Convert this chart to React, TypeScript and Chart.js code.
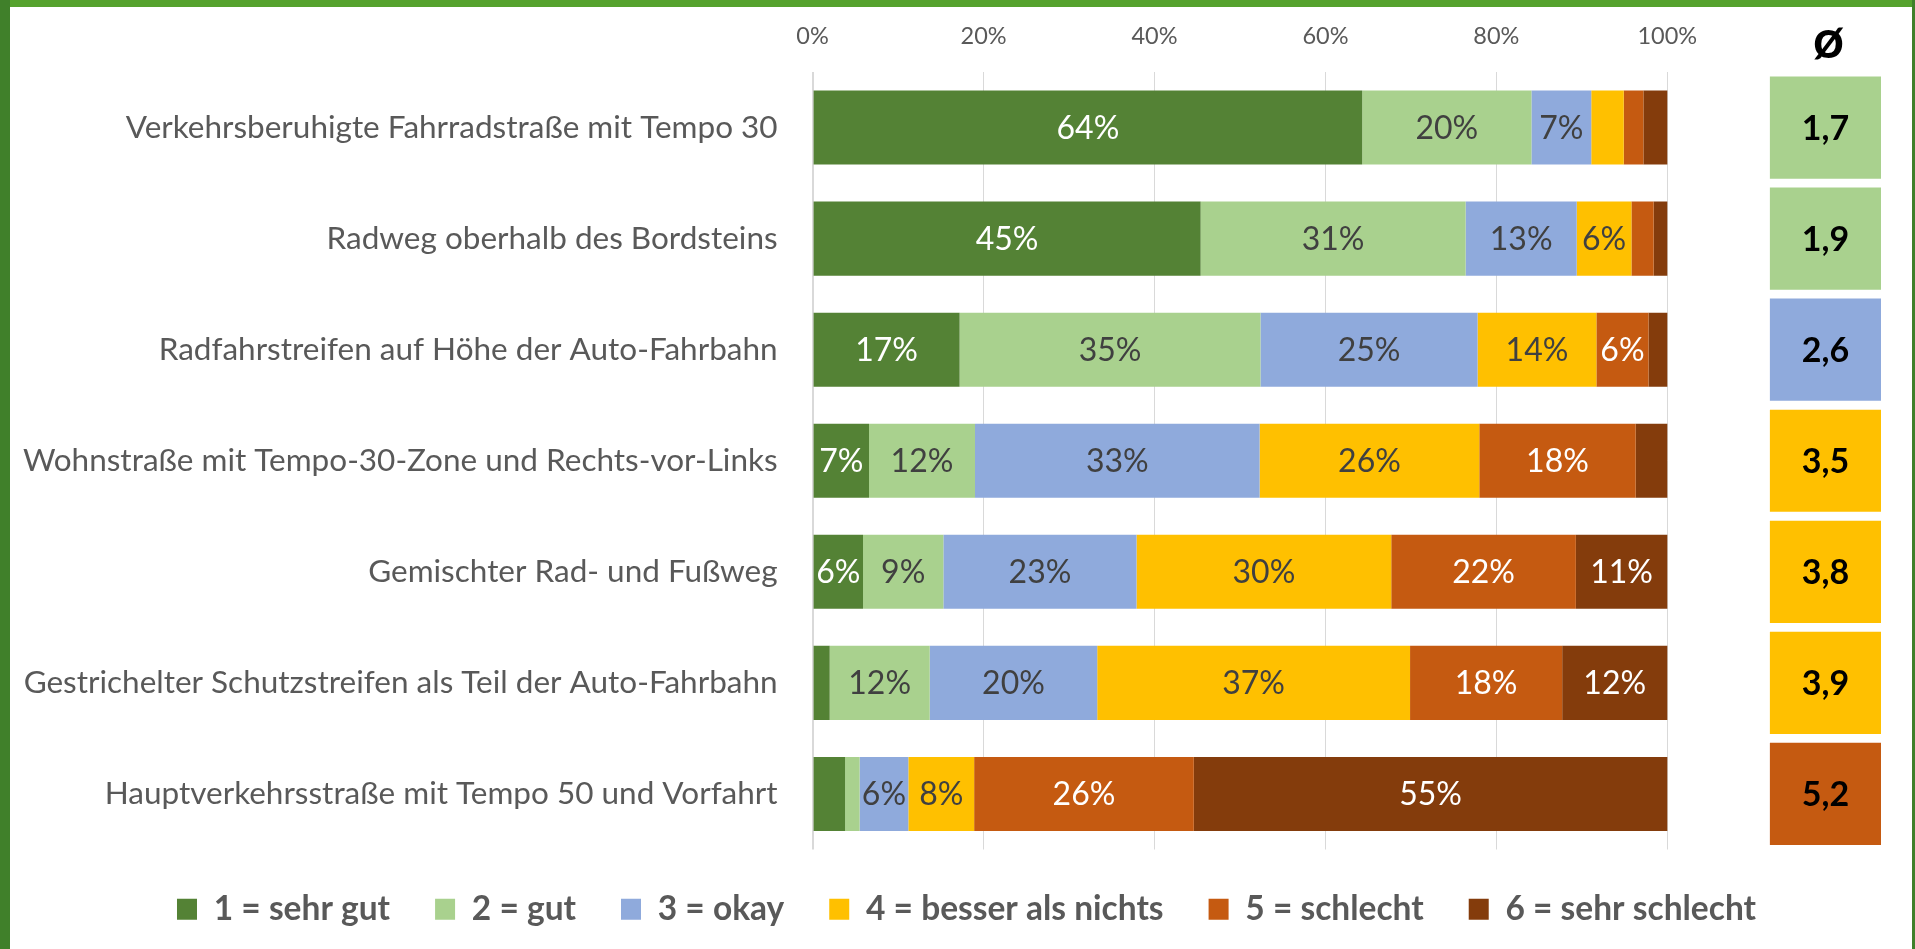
import React, { useEffect, useRef } from 'react';
import { Chart, registerables } from 'chart.js';

Chart.register(...registerables);

// ---------- data ----------
const categories = [
  'Verkehrsberuhigte Fahrradstraße mit Tempo 30',
  'Radweg oberhalb des Bordsteins',
  'Radfahrstreifen auf Höhe der Auto-Fahrbahn',
  'Wohnstraße mit Tempo-30-Zone und Rechts-vor-Links',
  'Gemischter Rad- und Fußweg',
  'Gestrichelter Schutzstreifen als Teil der Auto-Fahrbahn',
  'Hauptverkehrsstraße mit Tempo 50 und Vorfahrt',
];
const seriesNames = [
  '1 = sehr gut',
  '2 = gut',
  '3 = okay',
  '4 = besser als nichts',
  '5 = schlecht',
  '6 = sehr schlecht',
];
const sehrGut = [64.3, 45.4, 17.2, 6.6, 5.9, 2.0, 3.8];
const gut = [19.8, 31.0, 35.2, 12.4, 9.4, 11.7, 1.7];
const okay = [7.0, 13.0, 25.4, 33.3, 22.6, 19.6, 5.7];
const besserAlsNichts = [3.8, 6.4, 13.9, 25.7, 29.8, 36.6, 7.7];
const schlecht = [2.3, 2.6, 6.1, 18.3, 21.6, 17.8, 25.7];
const sehrSchlecht = [2.8, 1.6, 2.2, 3.7, 10.7, 12.3, 55.4];
const averages = [1.7, 1.9, 2.6, 3.5, 3.8, 3.9, 5.2];
const xTickValues = [0, 20, 40, 60, 80, 100];
const averageHeader = 'ø';

// ---------- styles ----------
const FONT = 'Lato';
const palette = ['#548235', '#A9D18E', '#8FAADC', '#FFC000', '#C55A11', '#843C0C'];
const valueTextColors = ['#FFFFFF', '#404040', '#404040', '#404040', '#FFFFFF', '#FFFFFF'];
const AXIS_TEXT = '#595959';
const GRID = '#D9D9D9';
const AVG_COLUMN: [number, number] = [112, 125]; // value-axis span of the average column
const X_MAX = 125;
const MIN_LABEL_VALUE = 5;
const LEGEND_NUDGE_X = 26;
const LEGEND_NUDGE_Y = -2;

const W = 1915;
const H = 949;
const PLOT_LEFT = 812.6;
const TOP_AXIS_HEIGHT = 72;

const valueLabelsPlugin = {
  id: 'valueLabels',
  afterDatasetsDraw(chart: any) {
    const ctx = chart.ctx;
    ctx.save();
    ctx.textAlign = 'center';
    ctx.textBaseline = 'middle';
    chart.data.datasets.forEach((ds: any, di: number) => {
      const meta = chart.getDatasetMeta(di);
      if (ds.stack === 'main') {
        ctx.font = `400 32px ${FONT}`;
        ctx.fillStyle = valueTextColors[di];
        meta.data.forEach((el: any, i: number) => {
          const v = ds.data[i];
          if (v < MIN_LABEL_VALUE) return;
          const p = el.getCenterPoint();
          ctx.fillText(`${Math.round(v)}%`, p.x, p.y + 1);
        });
      } else {
        ctx.font = `700 34px ${FONT}`;
        ctx.fillStyle = '#000000';
        meta.data.forEach((el: any, i: number) => {
          const p = el.getCenterPoint();
          ctx.fillText(averages[i].toFixed(1).replace('.', ','), p.x, p.y + 1);
        });
        const first = meta.data[0];
        if (first) {
          ctx.font = `700 54px ${FONT}`;
          ctx.textBaseline = 'alphabetic';
          ctx.fillText(averageHeader, first.getCenterPoint().x + 3, chart.chartArea.top - 14);
          ctx.textBaseline = 'middle';
        }
      }
    });
    ctx.restore();
  },
};

const legendNudgePlugin = {
  id: 'legendNudge',
  afterLayout(chart: any) {
    const l = chart.legend;
    if (l) {
      l.left += LEGEND_NUDGE_X;
      l.right += LEGEND_NUDGE_X;
      l.top += LEGEND_NUDGE_Y;
      l.bottom += LEGEND_NUDGE_Y;
    }
  },
};

export default function App() {
  const canvasRef = useRef<HTMLCanvasElement | null>(null);

  useEffect(() => {
    const canvas = canvasRef.current;
    if (!canvas) return;
    const series = [sehrGut, gut, okay, besserAlsNichts, schlecht, sehrSchlecht];
    const datasets: any[] = series.map((data, i) => ({
      label: seriesNames[i],
      data,
      backgroundColor: palette[i],
      borderWidth: 0,
      stack: 'main',
      grouped: false,
      categoryPercentage: 1,
      barPercentage: 0.667,
    }));
    datasets.push({
      label: averageHeader,
      data: averages.map(() => AVG_COLUMN),
      backgroundColor: averages.map((a) => palette[Math.round(a) - 1]),
      borderWidth: 0,
      stack: 'avg',
      grouped: false,
      categoryPercentage: 1,
      barPercentage: 0.92,
    });

    const chart = new Chart(canvas, {
      type: 'bar',
      data: { labels: categories, datasets },
      options: {
        indexAxis: 'y',
        responsive: false,
        animation: false,
        events: [],
        layout: { padding: { left: 0, right: 34, top: 0, bottom: 11 } },
        scales: {
          x: {
            position: 'top',
            stacked: true,
            min: 0,
            max: X_MAX,
            afterBuildTicks: (scale: any) => {
              scale.ticks = xTickValues.map((v) => ({ value: v }));
            },
            afterFit: (scale: any) => {
              scale.height = TOP_AXIS_HEIGHT;
            },
            ticks: {
              color: AXIS_TEXT,
              font: { family: FONT, size: 23.5 },
              padding: 21,
              callback: (v: any) => `${v}%`,
              maxRotation: 0,
            },
            grid: {
              color: GRID,
              lineWidth: (c: any) => (c.tick && c.tick.value === 0 ? 2 : 1),
              drawTicks: false,
            },
            border: { display: false },
          },
          y: {
            stacked: true,
            afterFit: (scale: any) => {
              scale.width = PLOT_LEFT;
            },
            ticks: {
              color: AXIS_TEXT,
              font: { family: FONT, size: 31.5 },
              padding: 27,
              autoSkip: false,
            },
            grid: { display: false },
            border: { display: false },
          },
        },
        plugins: {
          tooltip: { enabled: false },
          legend: {
            position: 'bottom',
            labels: {
              filter: (item: any) => item.datasetIndex < seriesNames.length,
              boxWidth: 20,
              boxHeight: 21,
              padding: 45,
              color: AXIS_TEXT,
              font: { family: FONT, size: 33.5, weight: 'bold' },
            },
          },
        },
      } as any,
      plugins: [valueLabelsPlugin, legendNudgePlugin],
    });
    return () => chart.destroy();
  }, []);

  return (
    <div
      style={{
        position: 'absolute',
        left: 0,
        top: 0,
        width: W,
        height: H,
        background: '#FFFFFF',
        overflow: 'hidden',
      }}
    >
      <div style={{ position: 'absolute', left: 0, top: 0, width: W, height: 7, background: '#55A22E' }} />
      <div style={{ position: 'absolute', left: 0, top: 0, width: 10, height: H, background: '#40802A' }} />
      <div style={{ position: 'absolute', right: 0, top: 0, width: 3, height: H, background: '#40802A' }} />
      <canvas
        ref={canvasRef}
        width={W}
        height={H}
        style={{ position: 'absolute', left: 0, top: 0, width: W, height: H }}
      />
    </div>
  );
}
